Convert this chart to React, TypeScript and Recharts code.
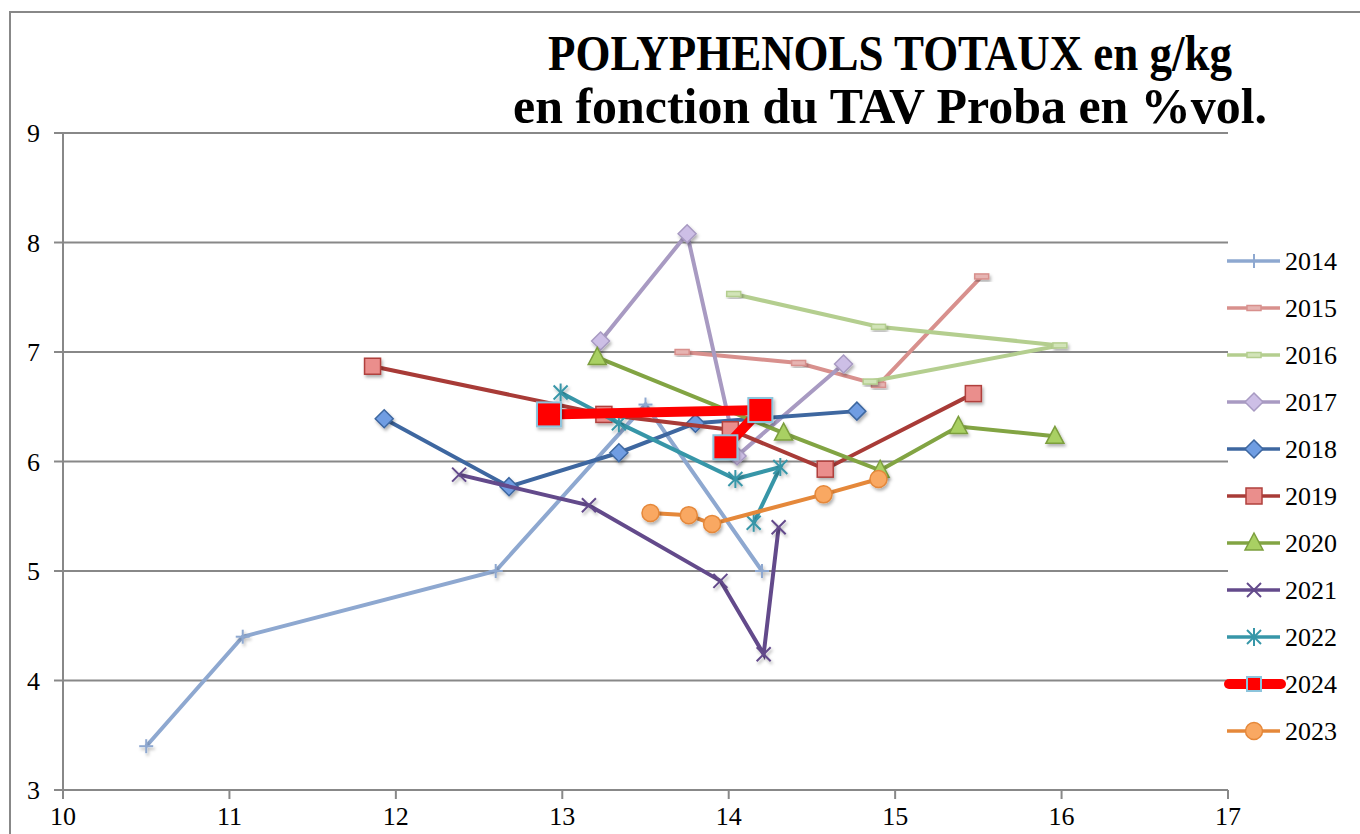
import React from 'react';
import { ScatterChart, Scatter, XAxis, YAxis, CartesianGrid, Legend, Customized } from 'recharts';

// ---------- data ----------
const xTicks = [10, 11, 12, 13, 14, 15, 16, 17];
const yTicks = [3, 4, 5, 6, 7, 8, 9];

const tav2014 = [10.5, 11.08, 12.6, 13.5, 14.2];
const poly2014 = [3.4, 4.4, 5.0, 6.52, 5.0];

const tav2015 = [13.72, 14.42, 14.9, 15.52];
const poly2015 = [7.0, 6.9, 6.7, 7.69];

const tav2016 = [14.03, 14.9, 15.99, 14.85];
const poly2016 = [7.53, 7.23, 7.06, 6.73];

const tav2017 = [13.23, 13.75, 14.05, 14.69];
const poly2017 = [7.1, 8.08, 6.05, 6.89];

const tav2018 = [11.93, 12.68, 13.34, 13.8, 14.77];
const poly2018 = [6.39, 5.77, 6.08, 6.35, 6.46];

const tav2019 = [11.86, 13.25, 14.01, 14.58, 15.47];
const poly2019 = [6.87, 6.43, 6.29, 5.93, 6.62];

const tav2020 = [13.21, 14.33, 14.91, 15.38, 15.96];
const poly2020 = [6.95, 6.26, 5.92, 6.32, 6.23];

const tav2021 = [12.38, 13.16, 13.95, 14.21, 14.3];
const poly2021 = [5.88, 5.6, 4.91, 4.24, 5.4];

const tav2022 = [12.99, 13.34, 14.04, 14.31, 14.15];
const poly2022 = [6.63, 6.35, 5.84, 5.95, 5.44];

const tav2024 = [12.92, 14.19, 13.98];
const poly2024 = [6.43, 6.47, 6.13];

const tav2023 = [13.53, 13.76, 13.9, 14.57, 14.9];
const poly2023 = [5.53, 5.51, 5.43, 5.7, 5.84];

const seriesNames = ['2014', '2015', '2016', '2017', '2018', '2019', '2020', '2021', '2022', '2024', '2023'];

const toPts = (xs: number[], ys: number[]) => xs.map((x, i) => ({ x, y: ys[i] }));

type Style = { line: string; fill: string; stroke: string; marker: string; width: number };
const styles: Record<string, Style> = {
  '2014': { line: '#8EA8D0', fill: '#8EA8D0', stroke: '#8EA8D0', marker: 'plus', width: 4 },
  '2015': { line: '#D8908D', fill: '#E6B4B2', stroke: '#D8908D', marker: 'dash', width: 4 },
  '2016': { line: '#B4CE8F', fill: '#D2E4B8', stroke: '#B4CE8F', marker: 'dash', width: 4 },
  '2017': { line: '#A89AC2', fill: '#CDBFE6', stroke: '#A89AC2', marker: 'diamond', width: 4 },
  '2018': { line: '#3E67A0', fill: '#6F9DE2', stroke: '#3E67A0', marker: 'diamond', width: 4 },
  '2019': { line: '#A83B37', fill: '#EA8E8C', stroke: '#B0403D', marker: 'square', width: 4 },
  '2020': { line: '#82A443', fill: '#A9D063', stroke: '#7C9E3E', marker: 'triangle', width: 4 },
  '2021': { line: '#634A8B', fill: '#634A8B', stroke: '#634A8B', marker: 'x', width: 4 },
  '2022': { line: '#3796A8', fill: '#3796A8', stroke: '#3796A8', marker: 'asterisk', width: 4 },
  '2024': { line: '#FF0000', fill: '#FF0000', stroke: '#8CC4DC', marker: 'bigsquare', width: 10 },
  '2023': { line: '#E5883A', fill: '#F9A862', stroke: '#E5883A', marker: 'circle', width: 4 },
};

const seriesData: Record<string, { x: number; y: number }[]> = {
  '2014': toPts(tav2014, poly2014),
  '2015': toPts(tav2015, poly2015),
  '2016': toPts(tav2016, poly2016),
  '2017': toPts(tav2017, poly2017),
  '2018': toPts(tav2018, poly2018),
  '2019': toPts(tav2019, poly2019),
  '2020': toPts(tav2020, poly2020),
  '2021': toPts(tav2021, poly2021),
  '2022': toPts(tav2022, poly2022),
  '2024': toPts(tav2024, poly2024),
  '2023': toPts(tav2023, poly2023),
};

const FONT = '"Liberation Serif", "DejaVu Serif", serif';

function drawMarker(st: Style, cx: number, cy: number, shadow: boolean) {
  const f = shadow ? 'url(#mkshadow)' : undefined;
  switch (st.marker) {
    case 'plus':
      return (
        <g filter={f}>
          <line x1={cx - 7} y1={cy} x2={cx + 7} y2={cy} stroke={st.stroke} strokeWidth={2} />
          <line x1={cx} y1={cy - 7} x2={cx} y2={cy + 7} stroke={st.stroke} strokeWidth={2} />
        </g>
      );
    case 'dash':
      return <rect filter={f} x={cx - 7} y={cy - 2.5} width={14} height={5} fill={st.fill} stroke={st.stroke} strokeWidth={1.5} />;
    case 'diamond':
      return (
        <polygon filter={f} points={`${cx},${cy - 9} ${cx + 9},${cy} ${cx},${cy + 9} ${cx - 9},${cy}`} fill={st.fill} stroke={st.stroke} strokeWidth={1.5} />
      );
    case 'square':
      return <rect filter={f} x={cx - 8} y={cy - 8} width={16} height={16} fill={st.fill} stroke={st.stroke} strokeWidth={1.5} />;
    case 'triangle':
      return (
        <polygon filter={f} points={`${cx},${cy - 10} ${cx + 9},${cy + 7} ${cx - 9},${cy + 7}`} fill={st.fill} stroke={st.stroke} strokeWidth={1.5} />
      );
    case 'x':
      return (
        <g filter={f}>
          <line x1={cx - 7} y1={cy - 7} x2={cx + 7} y2={cy + 7} stroke={st.stroke} strokeWidth={2} />
          <line x1={cx - 7} y1={cy + 7} x2={cx + 7} y2={cy - 7} stroke={st.stroke} strokeWidth={2} />
        </g>
      );
    case 'asterisk':
      return (
        <g filter={f}>
          <line x1={cx - 7} y1={cy - 7} x2={cx + 7} y2={cy + 7} stroke={st.stroke} strokeWidth={2} />
          <line x1={cx - 7} y1={cy + 7} x2={cx + 7} y2={cy - 7} stroke={st.stroke} strokeWidth={2} />
          <line x1={cx} y1={cy - 9} x2={cx} y2={cy + 9} stroke={st.stroke} strokeWidth={2} />
        </g>
      );
    case 'circle':
      return <circle filter={f} cx={cx} cy={cy} r={8.5} fill={st.fill} stroke={st.stroke} strokeWidth={1.5} />;
    case 'bigsquare':
      return <rect filter={f} x={cx - 12} y={cy - 12} width={24} height={24} fill={st.fill} stroke={st.stroke} strokeWidth={2} />;
    default:
      return null;
  }
}

const legendTop = 240;
const legendStep = 47;

function LegendContent() {
  return (
    <svg width={145} height={530} style={{ display: 'block' }}>
      {seriesNames.map((name, i) => {
        const st = styles[name];
        const y = 21 + i * legendStep;
        const thick = name === '2024';
        return (
          <g key={name}>
            <line
              x1={thick ? 14 : 12}
              x2={thick ? 66 : 65}
              y1={y}
              y2={y}
              stroke={st.line}
              strokeWidth={thick ? 10 : 3.5}
              strokeLinecap={thick ? 'round' : 'butt'}
            />
            {thick ? (
              <rect x={39 - 7} y={y - 7} width={14} height={14} fill="#FF0000" stroke="#8CC4DC" strokeWidth={2} />
            ) : (
              drawMarker(st, 39, y, false)
            )}
            <text x={70} y={y + 9} fontFamily={FONT} fontSize={26} fill="#000">
              {name}
            </text>
          </g>
        );
      })}
    </svg>
  );
}

function Decorations() {
  return (
    <g>
      <defs>
        <filter id="mkshadow" x="-50%" y="-50%" width="200%" height="200%">
          <feDropShadow dx="1.5" dy="2.5" stdDeviation="1.5" floodColor="#000" floodOpacity="0.3" />
        </filter>
      </defs>
      <polyline points="10,900 10,12 1400,12" fill="none" stroke="#888" strokeWidth={2} />
      <text x={548} y={70} textLength={684} lengthAdjust="spacingAndGlyphs" fontFamily={FONT} fontWeight="bold" fontSize={50} fill="#000">
        POLYPHENOLS TOTAUX en g/kg
      </text>
      <text x={513} y={123} textLength={754} lengthAdjust="spacingAndGlyphs" fontFamily={FONT} fontWeight="bold" fontSize={50} fill="#000">
        en fonction du TAV Proba en %vol.
      </text>
    </g>
  );
}

export default function App() {
  return (
    <div style={{ position: 'absolute', left: 0, top: 0, width: 1360, height: 834, background: '#fff', overflow: 'hidden' }}>
      <ScatterChart width={1360} height={834} margin={{ top: 133, right: 132, bottom: 0, left: 8 }}>
        <Customized component={Decorations} />
        <CartesianGrid vertical={false} stroke="#888" strokeWidth={2} />
        <XAxis
          type="number"
          dataKey="x"
          domain={[10, 17]}
          ticks={xTicks}
          height={44}
          axisLine={{ stroke: '#888', strokeWidth: 2 }}
          tickLine={{ stroke: '#888', strokeWidth: 2 }}
          tickSize={9}
          tickMargin={8}
          tick={{ fontFamily: FONT, fontSize: 26, fill: '#000' }}
          allowDataOverflow
        />
        <YAxis
          type="number"
          dataKey="y"
          domain={[3, 9]}
          ticks={yTicks}
          width={55}
          axisLine={{ stroke: '#888', strokeWidth: 2 }}
          tickLine={{ stroke: '#888', strokeWidth: 2 }}
          tickSize={9}
          tickMargin={14}
          tick={{ fontFamily: FONT, fontSize: 26, fill: '#000' }}
          allowDataOverflow
        />
        <Legend
          layout="vertical"
          align="center"
          verticalAlign="middle"
          content={() => <LegendContent />}
          wrapperStyle={{ left: 1215, top: legendTop, width: 145, height: 530 }}
        />
        {seriesNames.map((name) => {
          const st = styles[name];
          return (
            <Scatter
              key={name}
              name={name}
              data={seriesData[name]}
              isAnimationActive={false}
              line={{ stroke: st.line, strokeWidth: st.width }}
              lineJointType="linear"
              shape={(p: any) => drawMarker(st, p.cx, p.cy, true)}
            />
          );
        })}
      </ScatterChart>
    </div>
  );
}
